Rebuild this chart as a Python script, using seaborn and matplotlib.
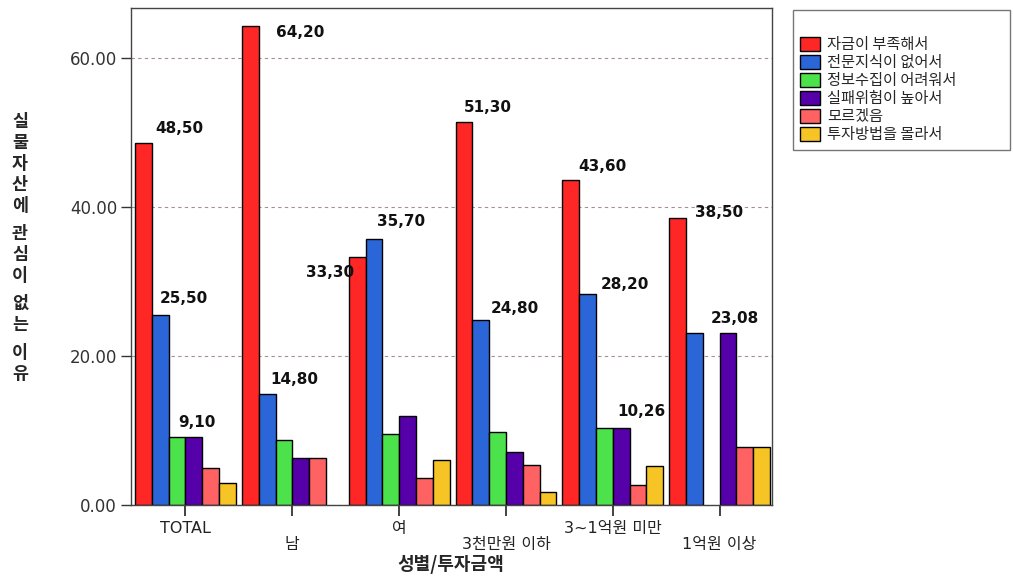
import numpy as np
import pandas as pd
import matplotlib
matplotlib.use("Agg")
import matplotlib.pyplot as plt
from matplotlib.patches import Patch
import seaborn as sns

# Groups along the x axis and the answer categories (hue)
groups = ["TOTAL", "남", "여", "3천만원 이하", "3~1억원 미만", "1억원 이상"]
reasons = ["자금이 부족해서", "전문지식이 없어서", "정보수집이 어려워서",
           "실패위험이 높아서", "모르겠음", "투자방법을 몰라서"]

# Share of respondents (%) per reason, one value per group
funds_short = [48.50, 64.20, 33.30, 51.30, 43.60, 38.50]
no_knowledge = [25.50, 14.80, 35.70, 24.80, 28.20, 23.08]
hard_info = [9.10, 8.70, 9.50, 9.70, 10.26, np.nan]
high_risk = [9.10, 6.20, 11.90, 7.10, 10.26, 23.08]
dont_know = [4.90, 6.20, 3.60, 5.30, 2.56, 7.69]
no_method = [2.90, np.nan, 6.00, 1.70, 5.13, 7.69]

series = [funds_short, no_knowledge, hard_info, high_risk, dont_know, no_method]
colors = ["#ff2626", "#2b66d9", "#4ce24c", "#5500a8", "#ff6262", "#f7c425"]

y_ticks = [0, 20, 40, 60]
y_title = "실물자산에 관심이 없는 이유"
x_title = "성별/투자금액"

# Bars that carry a value label: (group index, reason index, dx px, dy px)
labelled = [
    (0, 0, 36, 15), (0, 1, 24, 16), (0, 3, 3, 14),
    (1, 0, 50, -6), (1, 1, 27, 15),
    (2, 0, -27, -16), (2, 1, 27, 17),
    (3, 0, 24, 15), (3, 1, 34, 11),
    (4, 0, 32, 13), (4, 1, 37, 10), (4, 3, 20, 17),
    (5, 0, 41, 5), (5, 3, 7, 14),
]

rows = []
for r, vals in zip(reasons, series):
    for g, v in zip(groups, vals):
        rows.append({"group": g, "reason": r, "value": v})
df = pd.DataFrame(rows).dropna()

sns.set_style("white")
plt.rcParams["font.family"] = ["DejaVu Sans", "Noto Sans CJK KR"]

W, H = 1013, 576
fig = plt.figure(figsize=(W / 100, H / 100), dpi=100)
ax = fig.add_axes([131 / W, 1 - 504.5 / H, (772 - 131) / W, (504.5 - 8) / H])

bar_width = 0.944
sns.barplot(data=df, x="group", y="value", hue="reason",
            order=groups, hue_order=reasons, palette=colors,
            width=bar_width, saturation=1, edgecolor="black", linewidth=1,
            errorbar=None, legend=False, ax=ax)

ax.set_xlim(-0.51, 5.49)
ax.set_ylim(0, 66.67)

ax.set_axisbelow(True)
ax.yaxis.grid(True, linestyle=(0, (3, 3)), color="#a88f8f", linewidth=0.8)
ax.xaxis.grid(False)

for s in ax.spines.values():
    s.set_visible(True)
    s.set_color("#444444")
    s.set_linewidth(1.0)

ax.set_yticks(y_ticks)
ax.set_yticklabels([f"{v:.2f}" for v in y_ticks], fontsize=12, color="#333333")
ax.set_xticks(range(len(groups)))
ax.set_xticklabels([g if i % 2 == 0 else "\n" + g for i, g in enumerate(groups)],
                   fontsize=11.5, color="#222222", linespacing=1.05)
ax.tick_params(axis="y", direction="out", length=7, width=1, color="#333333", pad=3,
               left=True)
ax.tick_params(axis="x", direction="out", length=8, width=1.2, color="#222222", pad=4,
               bottom=True)
ax.set_xlabel("")
ax.set_ylabel("")

# Value labels next to the bars
step = bar_width / len(reasons)
for gi, ri, dx, dy in labelled:
    v = series[ri][gi]
    x = gi + (ri - (len(reasons) - 1) / 2) * step
    ax.annotate(f"{v:.2f}".replace(".", ","), xy=(x, v), xytext=(dx, dy),
                textcoords="offset pixels", ha="center", va="center",
                fontsize=11, fontweight="bold", color="#111111",
                family="DejaVu Sans")

# Vertical, stacked y-axis title
y = 122.0
for ch in y_title:
    if ch == " ":
        y += 7
        continue
    fig.text(20 / W, 1 - y / H, ch, ha="center", va="center", fontsize=12.5,
             fontweight="bold", family=["Noto Sans CJK KR", "DejaVu Sans"])
    y += 21

fig.text(451 / W, 1 - 564 / H, x_title, ha="center", va="center", fontsize=13,
         fontweight="bold", family=["Noto Sans CJK KR", "DejaVu Sans"])

handles = [Patch(facecolor=c, edgecolor="black", linewidth=1) for c in colors]
leg = fig.legend(handles, reasons, loc="upper left",
                 bbox_to_anchor=(793 / W, 0.5, 217 / W, 1 - 10 / H - 0.5),
                 mode="expand", title=" ", title_fontsize=13,
                 frameon=True, fancybox=False, edgecolor="#555555",
                 prop={"family": ["Noto Sans CJK KR", "DejaVu Sans"], "size": 11},
                 handlelength=1.3, handleheight=1.0, labelspacing=0.07,
                 borderpad=0.45, handletextpad=0.5, borderaxespad=0)
leg.get_frame().set_linewidth(1.0)

fig.savefig("out.png", dpi=100, facecolor="white")
